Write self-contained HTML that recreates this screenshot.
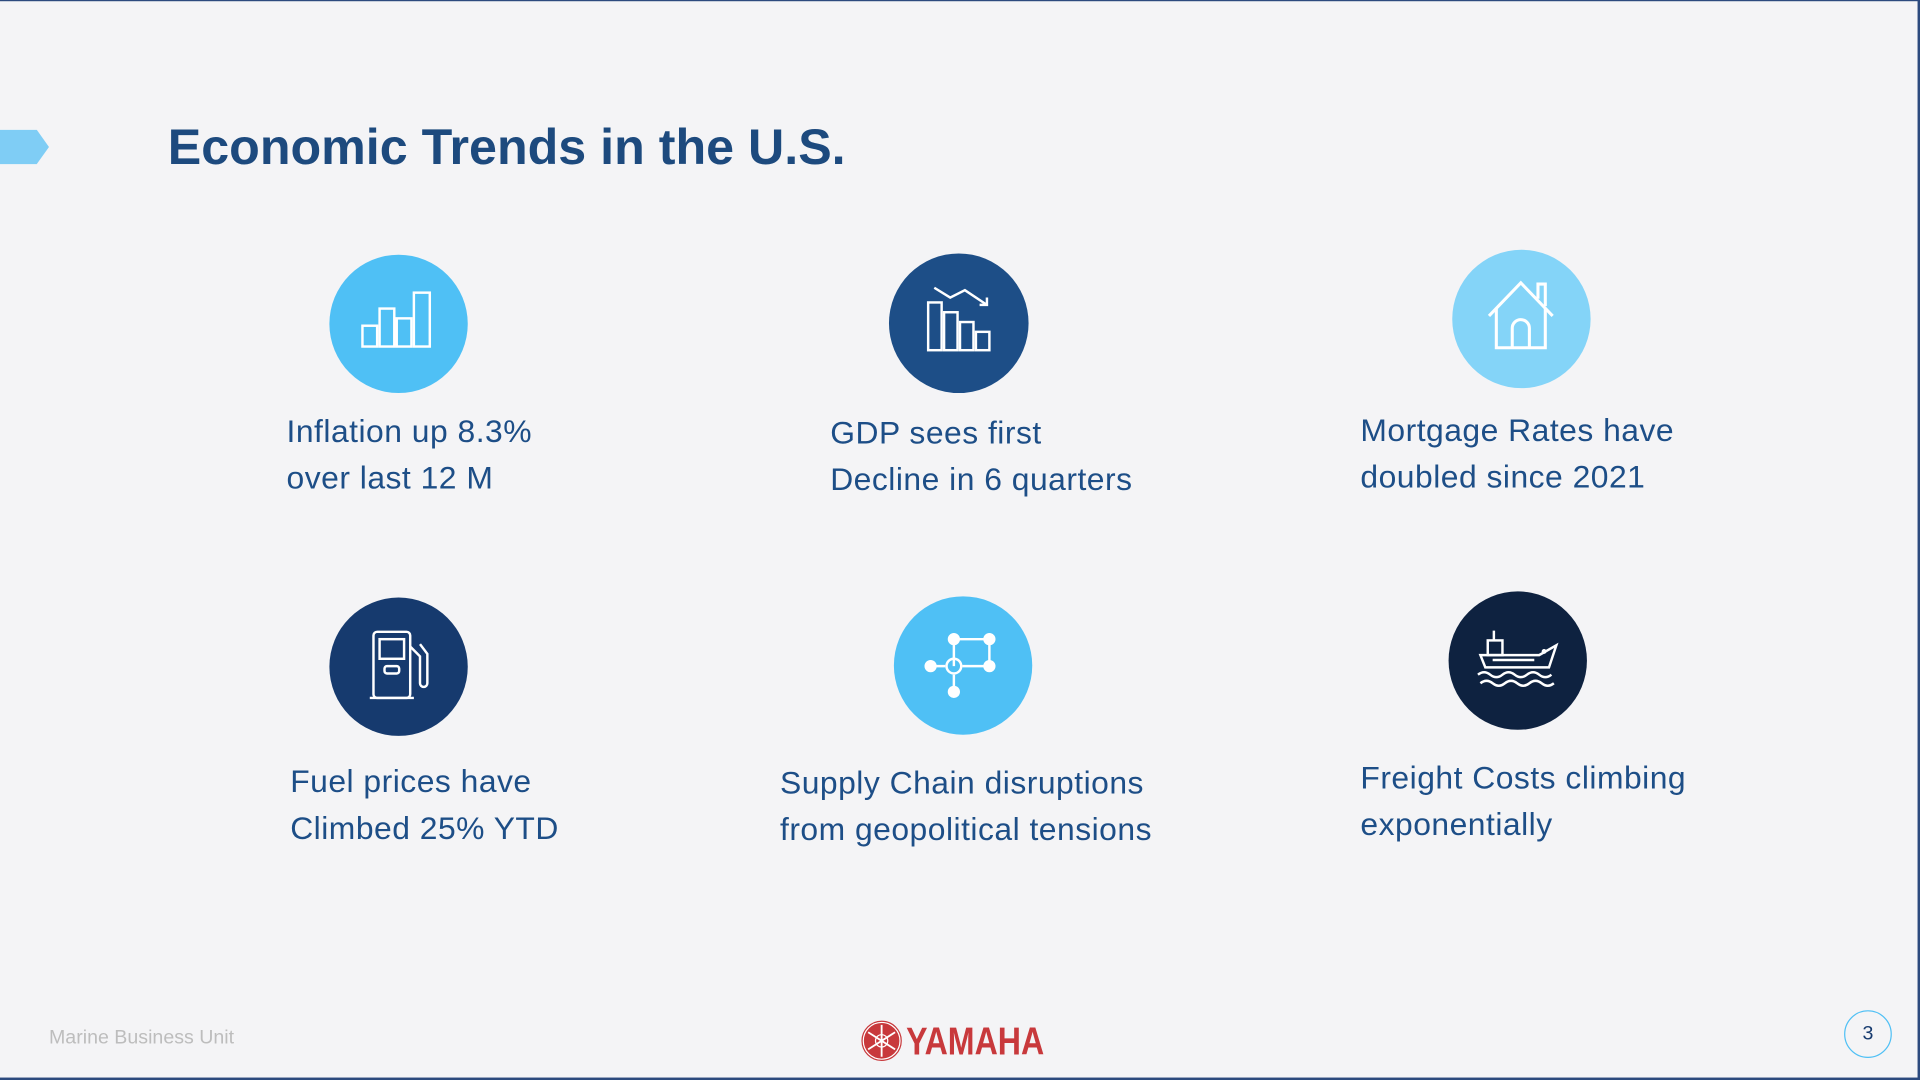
<!DOCTYPE html>
<html><head><meta charset="utf-8"><style>
html,body{margin:0;padding:0;}
body{width:1920px;height:1080px;overflow:hidden;background:#f4f4f6;font-family:"Liberation Sans",sans-serif;}
#s{position:absolute;left:0;top:0;width:1568px;height:882px;transform:scale(1.22449);transform-origin:0 0;background:#f4f4f6;}
.t{position:absolute;color:#1d4e87;font-size:26px;line-height:38px;white-space:nowrap;letter-spacing:0.4px;}
.c{position:absolute;border-radius:50%;}
.c svg{position:absolute;left:0;top:0;}
</style></head><body>
<div id="s">
<div style="position:absolute;left:0;top:0;width:1568px;height:1px;background:#2c4a7e"></div>
<div style="position:absolute;right:0;top:0;width:2px;height:882px;background:#2c4a7e"></div>
<div style="position:absolute;left:0;bottom:0;width:1568px;height:2px;background:#2c4a7e"></div>
<svg style="position:absolute;left:0;top:106px" width="42" height="30"><polygon points="0,0 30,0 40,14 30,28 0,28" fill="#7fcdf5"/></svg>
<div style="position:absolute;left:137px;top:97px;font-size:41px;font-weight:bold;color:#1d4a7e;white-space:nowrap">Economic Trends in the U.S.</div>

<div class="c" style="left:269px;top:208px;width:113px;height:113px;background:#4fc0f5">
<svg width="113" height="113" fill="none" stroke="#fff" stroke-width="2"><rect x="27" y="58" width="12" height="17"/><rect x="41" y="44" width="12" height="31"/><rect x="55" y="52" width="12" height="23"/><rect x="69" y="31" width="13" height="44"/></svg></div>
<div class="c" style="left:726px;top:207px;width:114px;height:114px;background:#1d4e87">
<svg width="114" height="114" fill="none" stroke="#fff" stroke-width="2"><rect x="32" y="40" width="11" height="39"/><rect x="45" y="48" width="11" height="31"/><rect x="58" y="56" width="11" height="23"/><rect x="71" y="64" width="11" height="15"/><polyline points="37,28 50,36 62,30 80,42"/><polyline points="74,42 80,42 80,36"/></svg></div>
<div class="c" style="left:1186px;top:204px;width:113px;height:113px;background:#84d4f8">
<svg width="113" height="113" fill="none" stroke="#fff" stroke-width="2.5"><polyline points="30,54 56,27 82,54"/><polyline points="36,48 36,80 76,80 76,48"/><path d="M49 80 V64 a7 7 0 0 1 14 0 V80"/><polyline points="70,40 70,28 76,28 76,46"/></svg></div>
<div class="c" style="left:269px;top:488px;width:113px;height:113px;background:#163a6e">
<svg width="113" height="113" fill="none" stroke="#fff" stroke-width="2"><rect x="36" y="28" width="30" height="54" rx="3"/><rect x="41" y="34" width="20" height="16"/><rect x="45" y="56" width="12" height="6" rx="2"/><line x1="33" y1="82" x2="69" y2="82"/><path d="M66 40 l8 8 v22 a3 3 0 0 0 6 0 v-24 l-6 -8"/></svg></div>
<div class="c" style="left:730px;top:487px;width:113px;height:113px;background:#4fc0f5">
<svg width="113" height="113" fill="none" stroke="#fff" stroke-width="2"><polyline points="49,57 49,35 78,35 78,57 56,57"/><line x1="30" y1="57" x2="42" y2="57"/><line x1="49" y1="64" x2="49" y2="78"/><circle cx="49" cy="57" r="6"/><g fill="#fff"><circle cx="30" cy="57" r="4"/><circle cx="49" cy="35" r="4"/><circle cx="78" cy="35" r="4"/><circle cx="78" cy="57" r="4"/><circle cx="49" cy="78" r="4"/></g></svg></div>
<div class="c" style="left:1183px;top:483px;width:113px;height:113px;background:#0e2240">
<svg width="113" height="113" fill="none" stroke="#fff" stroke-width="2"><path d="M26 52 H74 l14 -8 l-6 18 H30 Z"/><rect x="32" y="40" width="12" height="12"/><line x1="37" y1="32" x2="37" y2="40"/><line x1="36" y1="56" x2="70" y2="56"/><path d="M24 68 q5 -4 10 0 t10 0 t10 0 t10 0 t10 0 t10 0"/><path d="M26 75 q5 -4 10 0 t10 0 t10 0 t10 0 t10 0 t10 0"/><circle cx="78" cy="49" r="1"/></svg></div>

<div class="t" style="left:234px;top:333px">Inflation up 8.3%<br>over last 12 M</div>
<div class="t" style="left:678px;top:334px">GDP sees first<br>Decline in 6 quarters</div>
<div class="t" style="left:1111px;top:332px">Mortgage Rates have<br>doubled since 2021</div>
<div class="t" style="left:237px;top:619px">Fuel prices have<br>Climbed 25% YTD</div>
<div class="t" style="left:637px;top:620px">Supply Chain disruptions<br>from geopolitical tensions</div>
<div class="t" style="left:1111px;top:616px">Freight Costs climbing<br>exponentially</div>

<div style="position:absolute;left:40px;top:839px;font-size:16px;color:#bdbdbd;white-space:nowrap">Marine Business Unit</div>
<div style="position:absolute;left:703px;top:833px;height:34px;display:flex;align-items:center">
<svg width="34" height="34"><circle cx="17" cy="17" r="15" fill="#c8393c" stroke="#fff" stroke-width="1"/><circle cx="17" cy="17" r="16" fill="none" stroke="#c8393c" stroke-width="1"/><g stroke="#fff" stroke-width="1.5"><line x1="17" y1="4" x2="17" y2="30"/><line x1="6" y1="10" x2="28" y2="24"/><line x1="6" y1="24" x2="28" y2="10"/></g><circle cx="17" cy="17" r="5" fill="none" stroke="#fff"/></svg>
<span style="font-family:'Liberation Sans Narrow','Liberation Sans',sans-serif;font-weight:bold;font-size:32px;color:#c8393c;margin-left:3px;transform:scaleX(0.82);display:inline-block;transform-origin:0 50%">YAMAHA</span></div>
<div style="position:absolute;left:1506px;top:825px;width:37px;height:37px;border:1.5px solid #4fc0f5;border-radius:50%;text-align:center;line-height:37px;font-size:16px;color:#163a6e">3</div>
</div>
</body></html>
